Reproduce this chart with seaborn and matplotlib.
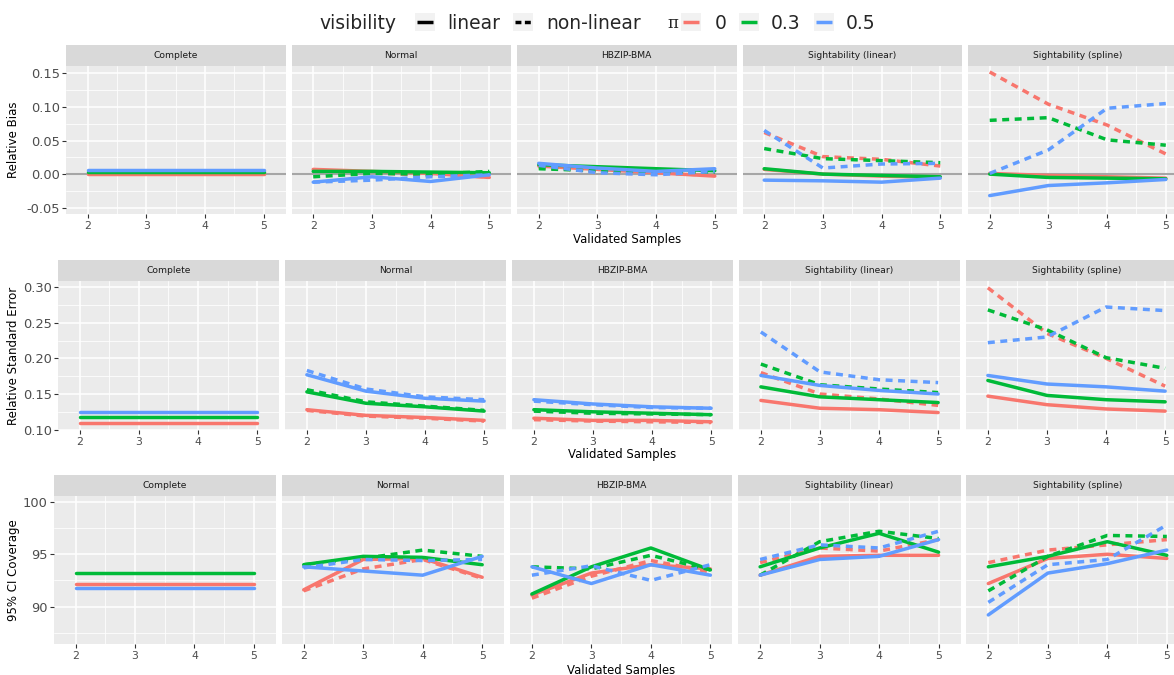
import matplotlib
matplotlib.use("Agg")
import matplotlib.pyplot as plt
from matplotlib.ticker import MultipleLocator, FuncFormatter
from matplotlib.patches import Rectangle
from matplotlib.lines import Line2D
import pandas as pd
import seaborn as sns

# ---------------- data ----------------
samples = [2, 3, 4, 5]
methods = ["Complete", "Normal", "HBZIP-BMA", "Sightability (linear)", "Sightability (spline)"]
pi_levels = ["0", "0.3", "0.5"]
visibility_levels = ["linear", "non-linear"]
metric_titles = ["Relative Bias", "Relative Standard Error", "95% CI Coverage"]
x_title = "Validated Samples"

# Relative bias
bias_complete_lin = {"0": [-0.0005, -0.0005, -0.0005, -0.0005], "0.3": [0.0025, 0.0025, 0.0025, 0.0025], "0.5": [0.006, 0.006, 0.006, 0.006]}
bias_normal_lin = {"0": [0.007, 0.004, 0.001, -0.005], "0.3": [0.004, 0.004, 0.003, 0.002], "0.5": [-0.012, -0.004, -0.011, -0.001]}
bias_normal_nl = {"0": [0.005, 0.002, -0.002, -0.004], "0.3": [-0.004, 0.001, 0.000, 0.004], "0.5": [-0.012, -0.009, -0.004, -0.001]}
bias_hbzip_lin = {"0": [0.012, 0.007, 0.002, -0.003], "0.3": [0.014, 0.011, 0.008, 0.005], "0.5": [0.016, 0.009, 0.004, 0.008]}
bias_hbzip_nl = {"0": [0.010, 0.004, 0.002, -0.002], "0.3": [0.008, 0.005, 0.004, 0.003], "0.5": [0.013, 0.002, -0.001, 0.004]}
bias_sightlin_lin = {"0": [0.007, 0.000, -0.003, -0.005], "0.3": [0.008, 0.000, -0.002, -0.004], "0.5": [-0.009, -0.010, -0.012, -0.006]}
bias_sightlin_nl = {"0": [0.062, 0.026, 0.022, 0.012], "0.3": [0.038, 0.023, 0.020, 0.017], "0.5": [0.065, 0.009, 0.015, 0.016]}
bias_spline_lin = {"0": [0.001, -0.002, -0.004, -0.006], "0.3": [0.000, -0.005, -0.006, -0.007], "0.5": [-0.032, -0.017, -0.013, -0.008]}
bias_spline_nl = {"0": [0.152, 0.104, 0.073, 0.030], "0.3": [0.080, 0.084, 0.051, 0.043], "0.5": [0.001, 0.036, 0.098, 0.105]}

# Relative standard error
rse_complete_lin = {"0": [0.109, 0.109, 0.109, 0.109], "0.3": [0.118, 0.118, 0.118, 0.118], "0.5": [0.125, 0.125, 0.125, 0.125]}
rse_normal_lin = {"0": [0.128, 0.120, 0.117, 0.113], "0.3": [0.153, 0.137, 0.132, 0.126], "0.5": [0.177, 0.154, 0.144, 0.140]}
rse_normal_nl = {"0": [0.127, 0.119, 0.116, 0.112], "0.3": [0.156, 0.139, 0.133, 0.127], "0.5": [0.183, 0.157, 0.146, 0.142]}
rse_hbzip_lin = {"0": [0.116, 0.113, 0.113, 0.111], "0.3": [0.128, 0.125, 0.123, 0.121], "0.5": [0.142, 0.136, 0.132, 0.130]}
rse_hbzip_nl = {"0": [0.114, 0.112, 0.111, 0.110], "0.3": [0.126, 0.123, 0.122, 0.121], "0.5": [0.140, 0.135, 0.131, 0.130]}
rse_sightlin_lin = {"0": [0.141, 0.130, 0.128, 0.124], "0.3": [0.160, 0.146, 0.142, 0.138], "0.5": [0.176, 0.162, 0.155, 0.150]}
rse_sightlin_nl = {"0": [0.180, 0.150, 0.143, 0.134], "0.3": [0.192, 0.163, 0.157, 0.152], "0.5": [0.237, 0.181, 0.170, 0.166]}
rse_spline_lin = {"0": [0.147, 0.135, 0.129, 0.126], "0.3": [0.169, 0.148, 0.142, 0.139], "0.5": [0.176, 0.164, 0.160, 0.154]}
rse_spline_nl = {"0": [0.299, 0.235, 0.200, 0.161], "0.3": [0.268, 0.240, 0.201, 0.186], "0.5": [0.222, 0.230, 0.272, 0.267]}

# 95% CI coverage
cov_complete_lin = {"0": [92.2, 92.2, 92.2, 92.2], "0.3": [93.2, 93.2, 93.2, 93.2], "0.5": [91.8, 91.8, 91.8, 91.8]}
cov_normal_lin = {"0": [91.6, 94.5, 94.6, 92.8], "0.3": [94.0, 94.8, 94.7, 94.0], "0.5": [93.8, 93.4, 93.0, 94.8]}
cov_normal_nl = {"0": [91.5, 93.6, 94.5, 92.7], "0.3": [94.0, 94.6, 95.4, 94.8], "0.5": [93.7, 94.5, 94.4, 94.5]}
cov_hbzip_lin = {"0": [91.1, 93.2, 94.0, 93.6], "0.3": [91.2, 93.8, 95.6, 93.5], "0.5": [93.8, 92.2, 94.0, 93.0]}
cov_hbzip_nl = {"0": [90.8, 92.9, 94.4, 93.3], "0.3": [93.8, 93.6, 94.9, 93.5], "0.5": [93.0, 93.9, 92.5, 94.0]}
cov_sightlin_lin = {"0": [93.0, 94.8, 94.9, 94.9], "0.3": [93.8, 95.6, 97.0, 95.2], "0.5": [93.0, 94.5, 94.8, 96.4]}
cov_sightlin_nl = {"0": [94.2, 95.6, 95.3, 96.4], "0.3": [93.0, 96.2, 97.2, 96.5], "0.5": [94.5, 95.9, 95.6, 97.2]}
cov_spline_lin = {"0": [92.2, 94.6, 95.0, 94.6], "0.3": [93.8, 94.8, 96.2, 94.9], "0.5": [89.2, 93.2, 94.1, 95.4]}
cov_spline_nl = {"0": [94.2, 95.4, 95.9, 96.4], "0.3": [91.5, 94.8, 96.8, 96.7], "0.5": [90.4, 94.0, 94.5, 97.8]}

series = [
    ("Relative Bias", "Complete", "linear", bias_complete_lin),
    ("Relative Bias", "Normal", "linear", bias_normal_lin),
    ("Relative Bias", "Normal", "non-linear", bias_normal_nl),
    ("Relative Bias", "HBZIP-BMA", "linear", bias_hbzip_lin),
    ("Relative Bias", "HBZIP-BMA", "non-linear", bias_hbzip_nl),
    ("Relative Bias", "Sightability (linear)", "linear", bias_sightlin_lin),
    ("Relative Bias", "Sightability (linear)", "non-linear", bias_sightlin_nl),
    ("Relative Bias", "Sightability (spline)", "linear", bias_spline_lin),
    ("Relative Bias", "Sightability (spline)", "non-linear", bias_spline_nl),
    ("Relative Standard Error", "Complete", "linear", rse_complete_lin),
    ("Relative Standard Error", "Normal", "linear", rse_normal_lin),
    ("Relative Standard Error", "Normal", "non-linear", rse_normal_nl),
    ("Relative Standard Error", "HBZIP-BMA", "linear", rse_hbzip_lin),
    ("Relative Standard Error", "HBZIP-BMA", "non-linear", rse_hbzip_nl),
    ("Relative Standard Error", "Sightability (linear)", "linear", rse_sightlin_lin),
    ("Relative Standard Error", "Sightability (linear)", "non-linear", rse_sightlin_nl),
    ("Relative Standard Error", "Sightability (spline)", "linear", rse_spline_lin),
    ("Relative Standard Error", "Sightability (spline)", "non-linear", rse_spline_nl),
    ("95% CI Coverage", "Complete", "linear", cov_complete_lin),
    ("95% CI Coverage", "Normal", "linear", cov_normal_lin),
    ("95% CI Coverage", "Normal", "non-linear", cov_normal_nl),
    ("95% CI Coverage", "HBZIP-BMA", "linear", cov_hbzip_lin),
    ("95% CI Coverage", "HBZIP-BMA", "non-linear", cov_hbzip_nl),
    ("95% CI Coverage", "Sightability (linear)", "linear", cov_sightlin_lin),
    ("95% CI Coverage", "Sightability (linear)", "non-linear", cov_sightlin_nl),
    ("95% CI Coverage", "Sightability (spline)", "linear", cov_spline_lin),
    ("95% CI Coverage", "Sightability (spline)", "non-linear", cov_spline_nl),
]

records = []
for metric, method, vis, d in series:
    for p in pi_levels:
        for s, v in zip(samples, d[p]):
            records.append({"metric": metric, "method": method, "visibility": vis,
                            "pi": p, "samples": s, "value": v})
df = pd.DataFrame(records)

# ---------------- style ----------------
sns.set_theme(style="darkgrid")
plt.rcParams["font.family"] = ["DejaVu Sans"]

W, H = 1174, 675
palette = {"0": "#F8766D", "0.3": "#00BA38", "0.5": "#619CFF"}
dash_map = {"linear": "", "non-linear": (2.0, 1.6)}
LW = 2.5

fig = plt.figure(figsize=(W / 100, H / 100), dpi=100)
fig.patch.set_facecolor("white")


def fx(x):
    return x / W


def fy(y):
    return 1 - y / H


rows = [
    dict(top=66, height=148, left0=66, pitch=225.5, width=219.5, ylim=(-0.0594, 0.1609),
         major=0.05, minor=0.025, fmt="{:.2f}", xtitle_top=233),
    dict(top=281, height=149, left0=58, pitch=227, width=221, ylim=(0.0995, 0.3085),
         major=0.05, minor=0.025, fmt="{:.2f}", xtitle_top=448),
    dict(top=496, height=148, left0=53.5, pitch=228.2, width=222.5, ylim=(86.42, 100.57),
         major=5, minor=2.5, fmt="{:.0f}", xtitle_top=664),
]
STRIP = 21

for r, (metric, lay) in enumerate(zip(metric_titles, rows)):
    for c, method in enumerate(methods):
        left = lay["left0"] + c * lay["pitch"]
        ax = fig.add_axes([fx(left), fy(lay["top"] + lay["height"]), lay["width"] / W, lay["height"] / H])
        ax.set_facecolor("#EBEBEB")
        for sp in ax.spines.values():
            sp.set_visible(False)
        sub = df[(df["metric"] == metric) & (df["method"] == method)]
        if r == 0:
            ax.axhline(0, color="#A6A6A6", lw=1.5, zorder=1.5)
        sns.lineplot(data=sub, x="samples", y="value", hue="pi", style="visibility",
                     hue_order=pi_levels, style_order=visibility_levels,
                     palette=palette, dashes=dash_map, linewidth=LW,
                     estimator=None, errorbar=None, legend=False, ax=ax)
        ax.set_xlim(1.63, 5.37)
        ax.set_ylim(*lay["ylim"])
        ax.xaxis.set_major_locator(MultipleLocator(1))
        ax.xaxis.set_minor_locator(MultipleLocator(0.5))
        ax.yaxis.set_major_locator(MultipleLocator(lay["major"]))
        ax.yaxis.set_minor_locator(MultipleLocator(lay["minor"]))
        fmt = lay["fmt"]
        ax.yaxis.set_major_formatter(FuncFormatter(lambda v, pos, f=fmt: f.format(v)))
        ax.xaxis.set_major_formatter(FuncFormatter(lambda v, pos: f"{v:.0f}"))
        ax.grid(which="major", color="white", lw=1.1)
        ax.grid(which="minor", color="white", lw=0.55)
        ax.set_axisbelow(True)
        ax.set_xlabel("")
        ax.set_ylabel("")
        ax.tick_params(which="minor", length=0)
        ax.tick_params(axis="x", which="major", length=2.75, width=0.8, color="#333333",
                       labelsize=7.8, labelcolor="#4D4D4D", pad=2.2, bottom=True)
        if c == 0:
            ax.tick_params(axis="y", which="major", length=2.75, width=0.8, color="#333333",
                           labelsize=9.4, labelcolor="#4D4D4D", pad=1.5, left=True)
        else:
            ax.tick_params(axis="y", which="major", length=0, labelleft=False)
        sh = STRIP / lay["height"]
        ax.add_patch(Rectangle((0, 1), 1, sh, transform=ax.transAxes, clip_on=False,
                               facecolor="#D9D9D9", edgecolor="none"))
        ax.text(0.5, 1 + sh / 2, method, transform=ax.transAxes, ha="center", va="center",
                fontsize=6.6, color="#1A1A1A")
    # axis titles
    fig.text(fx(14), fy(lay["top"] + lay["height"] / 2), metric, rotation=90,
             ha="center", va="center", fontsize=8.5, color="black")
    center = lay["left0"] + 2 * lay["pitch"] + lay["width"] / 2
    fig.text(fx(center), fy(lay["xtitle_top"]), x_title, ha="center", va="top",
             fontsize=8.4, color="black")

# ---------------- legend ----------------
BASE = 28.7
KEY_TOP, KEY_H, KEY_W = 12.5, 18, 20
LEG_FS = 13.5


def key(x0, color, dashed=False):
    fig.add_artist(Rectangle((fx(x0), fy(KEY_TOP + KEY_H)), KEY_W / W, KEY_H / H,
                             transform=fig.transFigure, facecolor="#F2F2F2", edgecolor="none"))
    ln = Line2D([fx(x0 + 2), fx(x0 + 18)], [fy(KEY_TOP + KEY_H / 2)] * 2,
                transform=fig.transFigure, color=color, lw=LW, solid_capstyle="butt",
                dash_capstyle="butt")
    if dashed:
        ln.set_dashes((1.7, 1.0))
    fig.add_artist(ln)


fig.text(fx(319), fy(BASE), "visibility", fontsize=LEG_FS, va="baseline", ha="left")
key(415, "black")
fig.text(fx(447), fy(BASE), "linear", fontsize=LEG_FS, va="baseline", ha="left")
key(513, "black", dashed=True)
fig.text(fx(546), fy(BASE), "non-linear", fontsize=LEG_FS, va="baseline", ha="left")
fig.text(fx(667), fy(BASE - 1), "π", fontsize=12, va="baseline", ha="left",
         family=["DejaVu Serif"])
key(681, palette["0"])
fig.text(fx(715), fy(BASE), "0", fontsize=LEG_FS, va="baseline", ha="left")
key(739, palette["0.3"])
fig.text(fx(771), fy(BASE), "0.3", fontsize=LEG_FS, va="baseline", ha="left")
key(814, palette["0.5"])
fig.text(fx(846), fy(BASE), "0.5", fontsize=LEG_FS, va="baseline", ha="left")

fig.savefig("out.png", dpi=100)
